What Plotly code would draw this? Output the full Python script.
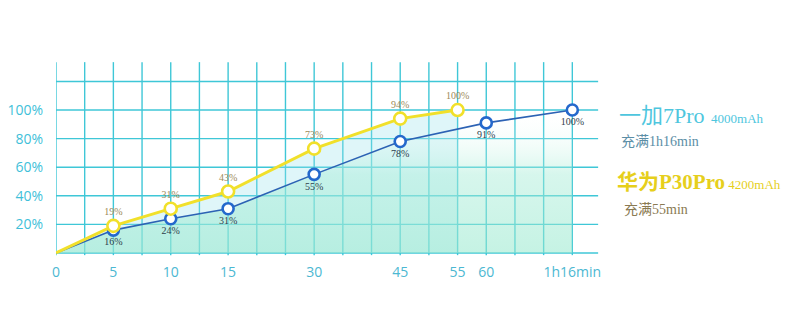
import plotly.graph_objects as go

# Charging time stamps (minutes) and the tick text shown for them
minutes = [0, 5, 10, 15, 30, 45, 55, 60, 76]
tick_labels = ["0", "5", "10", "15", "30", "45", "55", "60", "1h16min"]

# Huawei P30 Pro (40W) battery level, %
huawei_minutes = [0, 5, 10, 15, 30, 45, 55]
huawei_level = [0, 19, 31, 43, 73, 94, 100]

# OnePlus 7 Pro (Warp Charge 30) battery level, %
oneplus_minutes = [0, 5, 10, 15, 30, 45, 60, 76]
oneplus_level = [0, 16, 24, 31, 55, 78, 91, 100]

y_ticks = [20, 40, 60, 80, 100]
y_tick_labels = ["20%", "40%", "60%", "80%", "100%"]

# The time axis is drawn on a uniform grid of columns; each timestamp sits on a column
column_of = {0: 0, 5: 2, 10: 4, 15: 6, 30: 9, 45: 12, 55: 14, 60: 15, 76: 18}
n_columns = 18
grid_levels = [0, 20, 40, 60, 80, 100, 120]

GRID = "#3fc7d7"
YELLOW = "#f1e02a"
BLUE = "#2468cc"
BLUE_LINE = "#2c62b4"

hx = [column_of[m] for m in huawei_minutes]
ox = [column_of[m] for m in oneplus_minutes]

fig = go.Figure()

# Area under the Huawei curve
fig.add_trace(go.Scatter(
    x=hx, y=huawei_level, mode="none", fill="tozeroy",
    fillcolor="rgba(150,225,235,0.3)", hoverinfo="skip", showlegend=False,
))
# Area under the OnePlus curve, fading towards the top
fig.add_trace(go.Scatter(
    x=ox, y=oneplus_level, mode="none", fill="tozeroy",
    fillgradient=dict(
        type="vertical",
        colorscale=[[0, "rgba(150,232,205,0.55)"],
                    [0.55, "rgba(165,236,214,0.45)"],
                    [1, "rgba(255,255,255,0.0)"]],
    ),
    hoverinfo="skip", showlegend=False,
))

# OnePlus line and points
fig.add_trace(go.Scatter(
    x=ox, y=oneplus_level, mode="lines",
    line=dict(color=BLUE_LINE, width=1.6), hoverinfo="skip", showlegend=False,
))
fig.add_trace(go.Scatter(
    x=ox[1:], y=oneplus_level[1:], mode="markers+text",
    marker=dict(size=11, color="white", line=dict(color=BLUE, width=2.6)),
    text=[f"{v}%" for v in oneplus_level[1:]], textposition="bottom center",
    textfont=dict(family="Liberation Serif", size=10, color="#2e3e4c"),
    showlegend=False,
))

# Huawei line and points
fig.add_trace(go.Scatter(
    x=hx, y=huawei_level, mode="lines",
    line=dict(color=YELLOW, width=3), hoverinfo="skip", showlegend=False,
))
fig.add_trace(go.Scatter(
    x=hx[1:], y=huawei_level[1:], mode="markers+text",
    marker=dict(size=12, color="white", line=dict(color=YELLOW, width=2.6)),
    text=[f"{v}%" for v in huawei_level[1:]], textposition="top center",
    textfont=dict(family="Liberation Serif", size=10, color="#9c8a58"),
    showlegend=False,
))

# Grid: vertical columns rise above the top row, rows run past the last column
shapes = []
for c in range(n_columns + 1):
    shapes.append(dict(type="line", xref="x", yref="y", x0=c, x1=c, y0=-1.5, y1=133.5,
                       line=dict(color=GRID, width=1.4), layer="below"))
for g in grid_levels:
    shapes.append(dict(type="line", xref="x", yref="y", x0=0, x1=18.9, y0=g, y1=g,
                       line=dict(color=GRID, width=1.6 if g == 0 else 1.4), layer="below"))

# Plot area geometry (pixels)
L, T, W, H = 56, 60, 544.7, 198


def px(x, y):
    return (x - L) / W, (T + H - y) / H


annotations = []
specs = [
    (617, 115, "<span style='font-size:22px'>一加7Pro</span>"
               "<span style='font-size:13px'>  4000mAh</span>", "#4ec6de"),
    (619, 141, "充满1h16min", "#5b8ea6"),
    (615, 182, "<b><span style='font-size:21px'>华为P30Pro</span></b>"
               "<span style='font-size:13px'> 4200mAh</span>", "#e6cf1c"),
    (622, 209, "充满55min", "#8a7a52"),
]
for (xp, yp, txt, col) in specs:
    ax, ay = px(xp, yp)
    annotations.append(dict(
        x=ax, y=ay, xref="paper", yref="paper", xanchor="left", yanchor="middle",
        text=txt, showarrow=False,
        font=dict(family="Liberation Serif, Noto Sans CJK SC", size=14, color=col),
    ))

fig.update_layout(
    width=800, height=329,
    margin=dict(l=L, r=800 - L - W, t=T, b=329 - T - H, autoexpand=False),
    paper_bgcolor="white", plot_bgcolor="rgba(0,0,0,0)",
    shapes=shapes, annotations=annotations,
    xaxis=dict(
        range=[0, 19], tickmode="array",
        tickvals=[column_of[m] for m in minutes], ticktext=tick_labels,
        showgrid=False, zeroline=False, showline=False, ticks="",
        ticklabelstandoff=4, automargin=False,
        tickfont=dict(family="Open Sans", size=14, color="#4cb8d2"),
    ),
    yaxis=dict(
        range=[-3.5, 135], tickmode="array", tickvals=y_ticks, ticktext=y_tick_labels,
        showgrid=False, zeroline=False, showline=False, ticks="",
        ticklabelstandoff=12, automargin=False,
        tickfont=dict(family="Open Sans", size=14, color="#3fbfd9"),
    ),
)

fig.write_html("out.html")
